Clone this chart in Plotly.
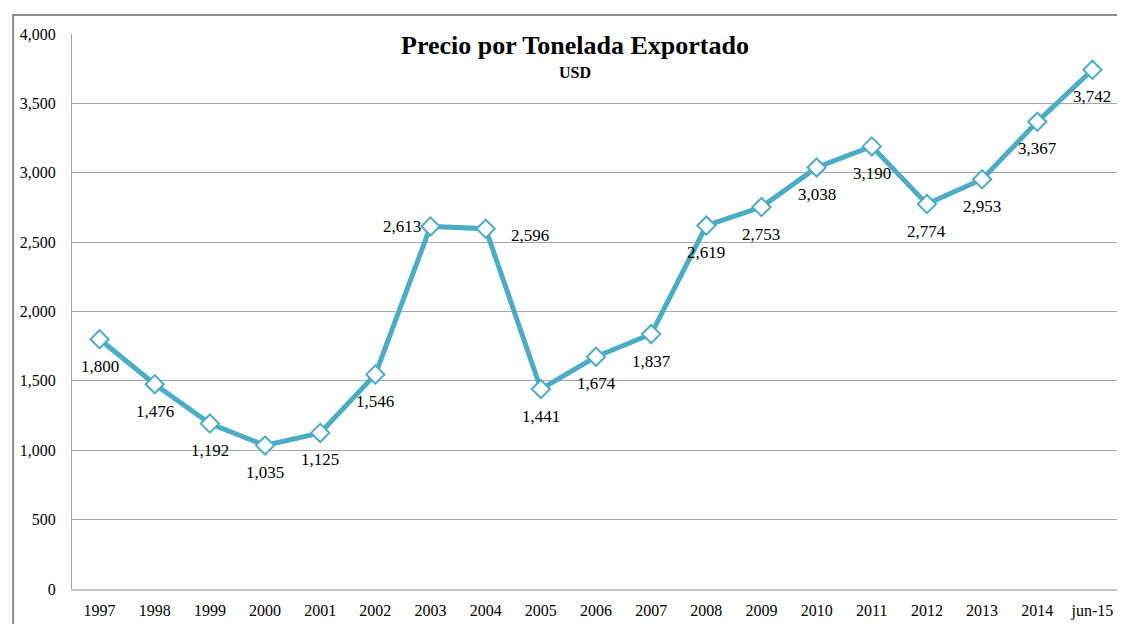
import plotly.graph_objects as go

categories = ["1997", "1998", "1999", "2000", "2001", "2002", "2003", "2004", "2005", "2006",
              "2007", "2008", "2009", "2010", "2011", "2012", "2013", "2014", "jun-15"]
values = [1800, 1476, 1192, 1035, 1125, 1546, 2613, 2596, 1441, 1674,
          1837, 2619, 2753, 3038, 3190, 2774, 2953, 3367, 3742]
y_ticks = [0, 500, 1000, 1500, 2000, 2500, 3000, 3500, 4000]

# page body has 8px margin: figure drawn at (8, 8)
OFF = 8
W, H = 1125, 624
L, R, T, B = 70 - OFF, W - (1120 - OFF), 34 - OFF, H - (590 - OFF)
pw, ph = W - L - R, H - T - B

fig = go.Figure()
fig.add_trace(go.Scatter(
    x=categories, y=values, mode="lines+markers",
    line=dict(color="#4BACC6", width=5),
    marker=dict(symbol="diamond", size=14, color="white", line=dict(color="#4BACC6", width=2)),
    cliponaxis=False, showlegend=False, hoverinfo="x+y",
))

for i, v in enumerate(values):
    xs, ys = 0, -27
    if i == 6:
        xs, ys = -29, 0
    elif i == 7:
        xs, ys = 44, -7
    fig.add_annotation(x=i, y=v, xref="x", yref="y", text=f"{v:,}", showarrow=False,
                       xshift=xs, yshift=ys, xanchor="center", yanchor="middle",
                       font=dict(family="Liberation Serif", size=17, color="black"))

fig.update_layout(
    width=W, height=H, margin=dict(l=L, r=R, t=T, b=B),
    paper_bgcolor="white", plot_bgcolor="white",
    xaxis=dict(type="category", showgrid=False, showline=True, linecolor="#C8C8C8", linewidth=2,
               ticks="", ticklabelstandoff=6,
               tickfont=dict(family="Liberation Serif", size=16, color="black"),
               range=[-0.5, len(categories) - 0.5], fixedrange=True),
    yaxis=dict(range=[0, 4000], tickvals=y_ticks, ticktext=[f"{v:,}" for v in y_ticks],
               showgrid=True, gridcolor="#A6A6A6", gridwidth=1, zeroline=False,
               showline=True, linecolor="#A6A6A6", linewidth=1, ticks="", ticklabelstandoff=12,
               tickfont=dict(family="Liberation Serif", size=16, color="black"), fixedrange=True),
    font=dict(family="Liberation Serif"),
)

fig.add_annotation(text="<b>Precio por Tonelada Exportado</b>", xref="paper", yref="paper",
                   x=(574 - OFF - L) / pw, y=(H - B - (46 - OFF)) / ph, showarrow=False,
                   xanchor="center", yanchor="middle",
                   font=dict(family="Liberation Serif", size=26, color="black"))
fig.add_annotation(text="<b>USD</b>", xref="paper", yref="paper",
                   x=(574 - OFF - L) / pw, y=(H - B - (73 - OFF)) / ph, showarrow=False,
                   xanchor="center", yanchor="middle",
                   font=dict(family="Liberation Serif", size=16, color="black"))

# outer chart border (extends past the window on right and bottom)
fig.add_shape(type="rect", xref="paper", yref="paper",
              x0=(11 - OFF - L) / pw, x1=(W + 20 - L) / pw,
              y0=-(B + 20) / ph, y1=(H - B - (15 - OFF)) / ph,
              line=dict(color="#8C8C8C", width=2), fillcolor="rgba(0,0,0,0)", layer="below")

fig.write_html("out.html")
